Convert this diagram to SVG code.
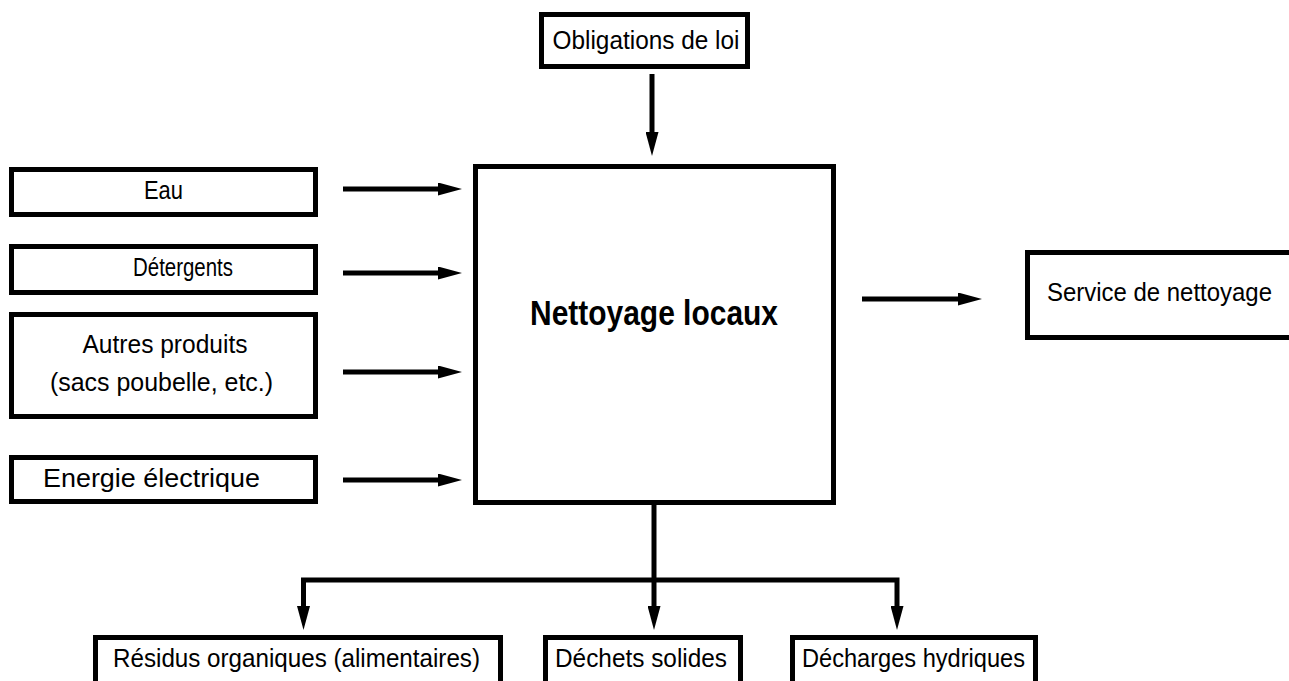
<svg xmlns="http://www.w3.org/2000/svg" width="1289" height="681" viewBox="0 0 1289 681">
  <style>
    .box { fill: #ffffff; stroke: #000000; stroke-width: 5; }
    .lbl { font-family: "Liberation Sans", Arial, sans-serif; font-size: 25px; fill: #000000; text-anchor: middle; }
    .title { font-family: "Liberation Sans", Arial, sans-serif; font-size: 35px; font-weight: bold; fill: #000000; text-anchor: middle; }
    .wire { fill: none; stroke: #000000; stroke-width: 5; stroke-linejoin: miter; marker-end: url(#head); }
  </style>
  <defs>
    <marker id="head" markerUnits="userSpaceOnUse" markerWidth="24" markerHeight="13" refX="9" refY="6.5" orient="auto">
      <path d="M0,0 L24,6.5 L0,13 Z" fill="#000000"/>
    </marker>
  </defs>

  <rect width="1289" height="681" fill="#ffffff"/>

  <!-- connectors -->
  <g id="connectors">
    <path class="wire" d="M652,74 V141"/>
    <path class="wire" d="M343,189 H447"/>
    <path class="wire" d="M343,273 H447"/>
    <path class="wire" d="M343,372 H447"/>
    <path class="wire" d="M343,480 H447"/>
    <path class="wire" d="M862,299 H967"/>
    <path class="wire" d="M654,503 V615"/>
    <path class="wire" d="M654,580 H303.5 V615"/>
    <path class="wire" d="M654,580 H897 V615"/>
  </g>

  <!-- central process -->
  <g id="process">
    <rect class="box" x="475.5" y="166.5" width="358" height="336"/>
    <text class="title" x="654" y="325" textLength="248" lengthAdjust="spacingAndGlyphs">Nettoyage locaux</text>
  </g>

  <!-- regulatory constraint -->
  <g id="obligations">
    <rect class="box" x="541.5" y="14.5" width="206" height="52"/>
    <text class="lbl" x="646" y="49" textLength="187" lengthAdjust="spacingAndGlyphs">Obligations de loi</text>
  </g>

  <!-- inputs -->
  <g id="eau">
    <rect class="box" x="11.5" y="169.5" width="304" height="45"/>
    <text class="lbl" x="163.5" y="199" textLength="39" lengthAdjust="spacingAndGlyphs">Eau</text>
  </g>
  <g id="detergents">
    <rect class="box" x="11.5" y="246.5" width="304" height="46"/>
    <text class="lbl" x="183" y="276" textLength="100" lengthAdjust="spacingAndGlyphs">Détergents</text>
  </g>
  <g id="autres-produits">
    <rect class="box" x="11.5" y="314.5" width="304" height="102"/>
    <text class="lbl" x="165" y="353" textLength="165" lengthAdjust="spacingAndGlyphs">Autres produits</text>
    <text class="lbl" x="161.5" y="391" textLength="223" lengthAdjust="spacingAndGlyphs">(sacs poubelle, etc.)</text>
  </g>
  <g id="energie">
    <rect class="box" x="11.5" y="457.5" width="304" height="44"/>
    <text class="lbl" x="151.5" y="487" textLength="217" lengthAdjust="spacingAndGlyphs">Energie électrique</text>
  </g>

  <!-- output -->
  <g id="service">
    <rect class="box" x="1027.5" y="252.5" width="300" height="85"/>
    <text class="lbl" x="1159.5" y="301" textLength="225" lengthAdjust="spacingAndGlyphs">Service de nettoyage</text>
  </g>

  <!-- waste streams -->
  <g id="residus">
    <rect class="box" x="95.5" y="637.5" width="405" height="80"/>
    <text class="lbl" x="296.5" y="667" textLength="367" lengthAdjust="spacingAndGlyphs">Résidus organiques (alimentaires)</text>
  </g>
  <g id="dechets">
    <rect class="box" x="545.5" y="637.5" width="195" height="80"/>
    <text class="lbl" x="641" y="667" textLength="172" lengthAdjust="spacingAndGlyphs">Déchets solides</text>
  </g>
  <g id="decharges">
    <rect class="box" x="792.5" y="637.5" width="243" height="80"/>
    <text class="lbl" x="913.5" y="667" textLength="223" lengthAdjust="spacingAndGlyphs">Décharges hydriques</text>
  </g>
</svg>
